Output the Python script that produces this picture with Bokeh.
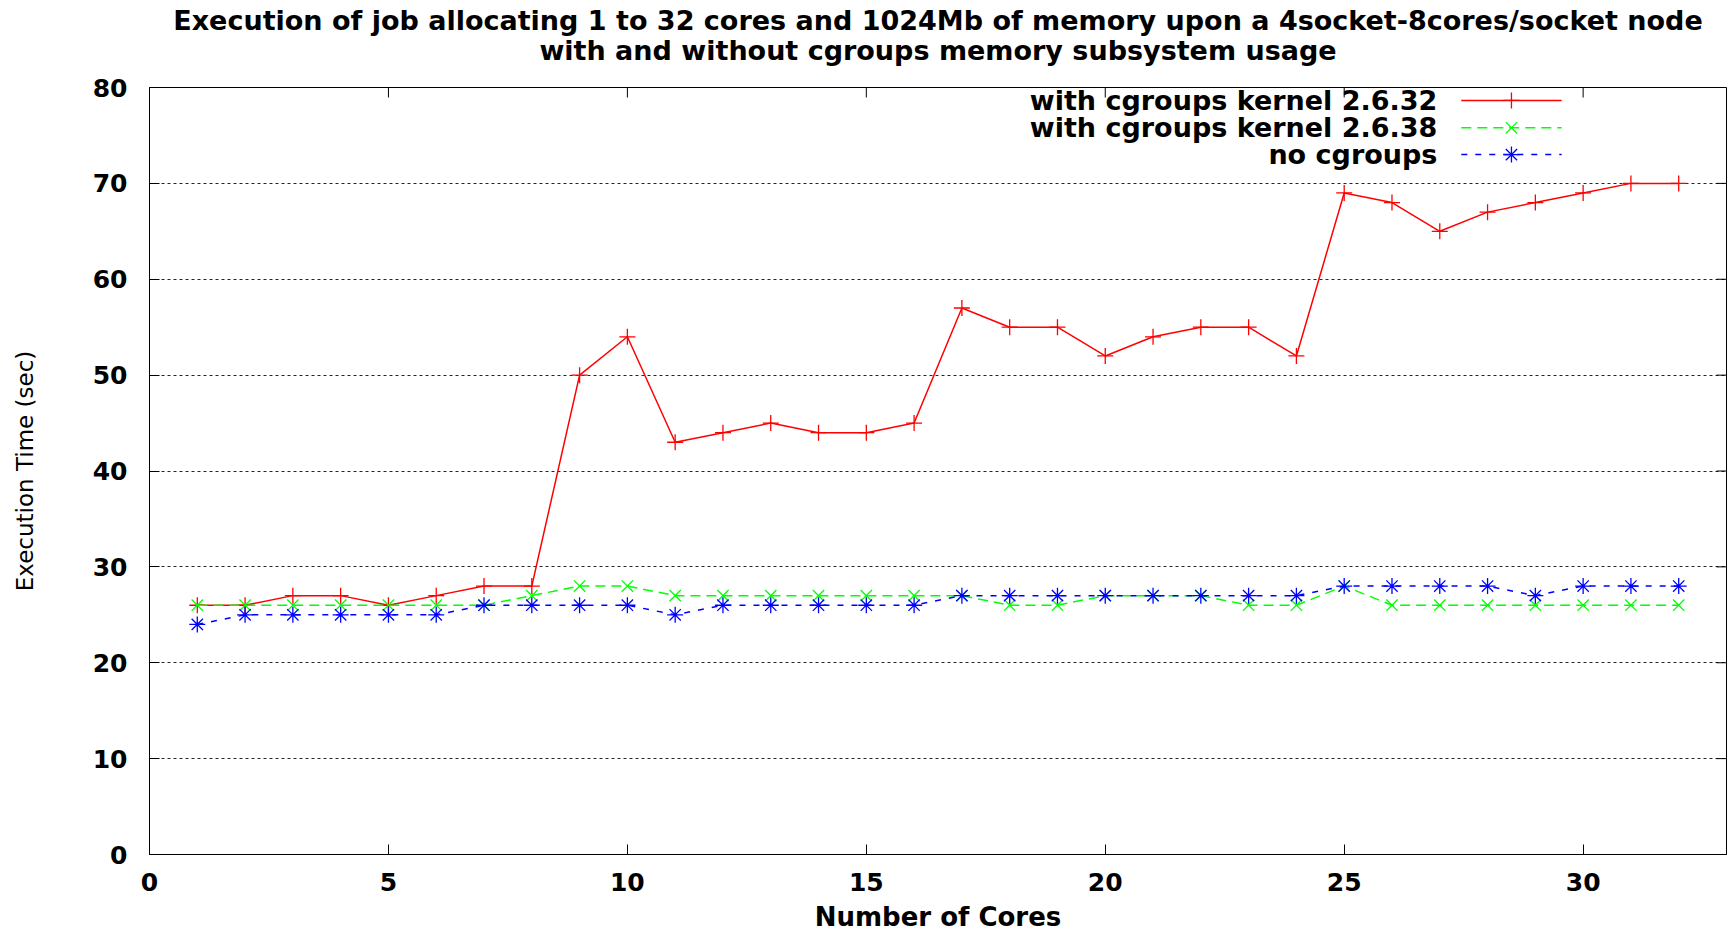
from bokeh.plotting import figure
from bokeh.models import Range1d, FixedTicker, LinearAxis
from bokeh.embed import file_html
from bokeh.resources import INLINE
from bokeh.core.properties import value

# ---------------- data ----------------
cores = list(range(1, 33))
time_cg_2632 = [26, 26, 27, 27, 26, 27, 28, 28, 50, 54, 43, 44, 45, 44, 44, 45,
                57, 55, 55, 52, 54, 55, 55, 52, 69, 68, 65, 67, 68, 69, 70, 70]
time_cg_2638 = [26, 26, 26, 26, 26, 26, 26, 27, 28, 28, 27, 27, 27, 27, 27, 27,
                27, 26, 26, 27, 27, 27, 26, 26, 28, 26, 26, 26, 26, 26, 26, 26]
time_no_cg = [24, 25, 25, 25, 25, 25, 26, 26, 26, 26, 25, 26, 26, 26, 26, 26,
              27, 27, 27, 27, 27, 27, 27, 27, 28, 28, 28, 28, 27, 28, 28, 28]
series_labels = ["with cgroups kernel 2.6.32", "with cgroups kernel 2.6.38", "no cgroups"]
x_ticks = [0, 5, 10, 15, 20, 25, 30]
y_ticks = [0, 10, 20, 30, 40, 50, 60, 70, 80]
title_lines = ["Execution of job allocating 1 to 32 cores and 1024Mb of memory upon a 4socket-8cores/socket node",
               "with and without cgroups memory subsystem usage"]
x_label = "Number of Cores"
y_label = "Execution Time (sec)"

# ---------------- styles / layout ----------------
FONT = "DejaVu Sans"
colors = ["#ff0000", "#00ff00", "#0000ff"]
markers = ["cross", "x", "asterisk"]
dashes = ["solid", "10 6", "6 8"]
X_MIN, X_MAX = 0, 33
Y_MIN, Y_MAX = 0, 80
W, H = 1735, 934
B_LEFT, B_RIGHT, B_TOP, B_BOTTOM = 149, 9, 87, 80
TICK_PX = 10

p = figure(width=W, height=H, output_backend="svg", toolbar_location=None,
           x_range=Range1d(X_MIN, X_MAX), y_range=Range1d(Y_MIN, Y_MAX),
           min_border_left=B_LEFT, min_border_right=B_RIGHT,
           min_border_top=B_TOP, min_border_bottom=B_BOTTOM)
p.title = None
p.background_fill_color = "white"
p.border_fill_color = "white"
p.outline_line_color = "black"
p.outline_line_width = 1
p.outline_line_alpha = 1

xax = p.below[0]
yax = p.left[0]
xax.ticker = FixedTicker(ticks=x_ticks)
yax.ticker = FixedTicker(ticks=y_ticks)
for ax in [xax, yax]:
    ax.major_tick_in = TICK_PX
    ax.major_tick_out = 0
    ax.minor_tick_line_color = None
    ax.axis_line_color = "black"
    ax.major_tick_line_color = "black"
    ax.major_label_text_font = FONT
    ax.major_label_text_font_size = "25px"
    ax.major_label_text_font_style = "bold"
    ax.major_label_text_color = "black"
    ax.axis_label_text_font = FONT
    ax.axis_label_text_color = "black"
xax.axis_label = x_label
xax.axis_label_text_font_size = "26px"
xax.axis_label_text_font_style = "bold"
xax.major_label_standoff = 18
xax.axis_label_standoff = 8
yax.axis_label = y_label
yax.axis_label_text_font_size = "23px"
yax.axis_label_text_font_style = "normal"
yax.major_label_standoff = 22
yax.axis_label_standoff = 52

# two-line title, drawn as labels of two tick-less axes above the frame
# (the first one added sits next to the frame)
for txt, standoff in [(title_lines[1], 22), (title_lines[0], -4)]:
    tax = LinearAxis(ticker=FixedTicker(ticks=[]), axis_line_color=None,
                     major_tick_in=0, major_tick_out=0, minor_tick_line_color=None,
                     major_tick_line_color=None, major_label_text_color=None,
                     axis_label=txt, axis_label_standoff=standoff,
                     axis_label_text_font=FONT, axis_label_text_font_size="27px",
                     axis_label_text_font_style="bold", axis_label_text_color="black")
    p.add_layout(tax, "above")

# mirrored inward ticks on the top and right border
x_px_per_unit = (W - B_LEFT - B_RIGHT) / (X_MAX - X_MIN)
y_px_per_unit = (H - B_TOP - B_BOTTOM) / (Y_MAX - Y_MIN)
p.segment(x0=x_ticks, y0=[Y_MAX] * len(x_ticks), x1=x_ticks,
          y1=[Y_MAX - TICK_PX / y_px_per_unit] * len(x_ticks), line_color="black", line_width=1)
p.segment(x0=[X_MAX] * len(y_ticks), y0=y_ticks, x1=[X_MAX - TICK_PX / x_px_per_unit] * len(y_ticks),
          y1=y_ticks, line_color="black", line_width=1)

# grid
p.xgrid.grid_line_color = None
p.ygrid.grid_line_color = "black"
p.ygrid.grid_line_dash = "3 3"
p.ygrid.grid_line_width = 1
p.ygrid.grid_line_alpha = 0.85
p.ygrid.ticker = FixedTicker(ticks=y_ticks)

# series
all_series = [time_cg_2632, time_cg_2638, time_no_cg]
for ys, col, mk, dsh in zip(all_series, colors, markers, dashes):
    p.line(cores, ys, line_color=col, line_width=1.5, line_dash=dsh)
    p.scatter(cores, ys, marker=mk, size=16, line_color=col, line_width=1.3)

# legend (text on the left, sample on the right, as in the gnuplot key)
LEG_TEXT_X = 26.95
LEG_LINE_X0 = 27.45
LEG_LINE_X1 = 29.55
LEG_ROWS_Y = [78.65, 75.8, 73.0]
for lab, col, mk, dsh, ly in zip(series_labels, colors, markers, dashes, LEG_ROWS_Y):
    p.text(x=[LEG_TEXT_X], y=[ly], text=[lab], text_align="right", text_baseline="middle",
           text_font=value(FONT), text_font_size="27px", text_font_style="bold", text_color="black")
    p.line([LEG_LINE_X0, LEG_LINE_X1], [ly, ly], line_color=col, line_width=1.5, line_dash=dsh)
    p.scatter([(LEG_LINE_X0 + LEG_LINE_X1) / 2], [ly], marker=mk, size=16, line_color=col, line_width=1.3)

open("out.html", "w").write(file_html(p, INLINE))
